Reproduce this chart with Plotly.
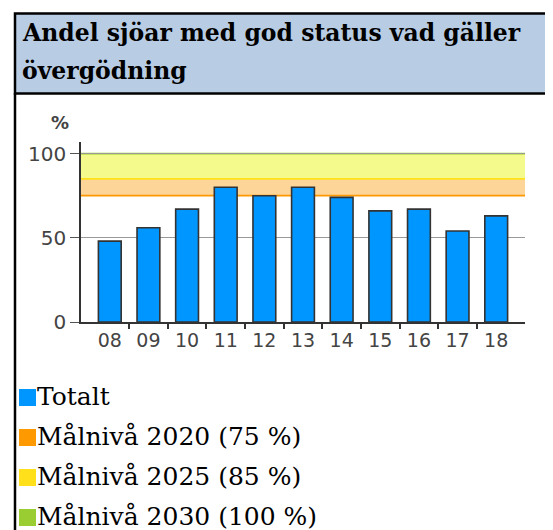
import plotly.graph_objects as go

# ---- data ----
years = ["08", "09", "10", "11", "12", "13", "14", "15", "16", "17", "18"]
totalt = [48, 56, 67, 80, 75, 80, 74, 66, 67, 54, 63]

target_labels = ["Målnivå 2020 (75 %)", "Målnivå 2025 (85 %)", "Målnivå 2030 (100 %)"]
target_values = [75, 85, 100]
band_fill = ["#FDD598", "#F4FA8C"]
band_line = ["#FF9900", "#FFE01A", "#9ACD32"]

legend_labels = ["Totalt"] + target_labels
legend_colors = ["#0096FF", "#FF9900", "#FFE01A", "#9ACD32"]

title_lines = ["Andel sjöar med god status vad gäller", "övergödning"]

# ---- geometry helpers (window pixel -> paper); the page body has an 8px margin ----
OFF = 8
W, H = 553 - OFF, 530 - OFF
ML, MR, MT, MB = 81 - OFF, 36 - OFF, 142 - OFF, 208
PW, PH = W - ML - MR, H - MT - MB


def px(x):
    return (x - OFF - ML) / PW


def py(y):
    return (H - MB - (y - OFF)) / PH


fig = go.Figure()
fig.add_trace(go.Bar(
    x=years, y=totalt, name="Totalt", showlegend=False,
    marker=dict(color="#0096FF", line=dict(color="#333333", width=1.6)),
))
# overlay axis only for tick marks between categories
fig.add_trace(go.Scatter(x=[None], y=[None], xaxis="x2", showlegend=False, hoverinfo="skip"))

shapes = []
for i in range(len(target_values) - 1):
    shapes.append(dict(type="rect", xref="x domain", yref="y", x0=0, x1=1,
                       y0=target_values[i], y1=target_values[i + 1],
                       fillcolor=band_fill[i], line=dict(width=0), layer="below"))
for v, c in zip(target_values, band_line):
    shapes.append(dict(type="line", xref="x domain", yref="y", x0=0, x1=1,
                       y0=v, y1=v, line=dict(color=c, width=1.8), layer="below"))

# header box
shapes.append(dict(type="rect", xref="paper", yref="paper",
                   x0=px(15), x1=px(551), y0=py(93.5), y1=py(13.5),
                   fillcolor="#B8CCE4", line=dict(color="#000000", width=2.5)))
# left border of the frame
shapes.append(dict(type="line", xref="paper", yref="paper",
                   x0=px(15), x1=px(15), y0=py(93.5), y1=py(540),
                   line=dict(color="#000000", width=2.5)))

annotations = []
title_y = [33, 71]
for t, yy in zip(title_lines, title_y):
    annotations.append(dict(text="<b>" + t + "</b>", xref="paper", yref="paper",
                            x=px(20), y=py(yy), xanchor="left", yanchor="middle",
                            showarrow=False,
                            font=dict(family="DejaVu Serif", size=23.5, color="#000000")))

annotations.append(dict(text="<b>%</b>", xref="paper", yref="paper",
                        x=px(60), y=py(123), xanchor="center", yanchor="middle",
                        showarrow=False,
                        font=dict(family="DejaVu Sans", size=18, color="#444444")))

row_y = [397.5, 437.5, 477.5, 517.5]
for lab, col, yy in zip(legend_labels, legend_colors, row_y):
    shapes.append(dict(type="rect", xref="paper", yref="paper",
                       x0=px(19), x1=px(36), y0=py(yy + 8.5), y1=py(yy - 8.5),
                       fillcolor=col, line=dict(width=0)))
    annotations.append(dict(text=lab, xref="paper", yref="paper",
                            x=px(35), y=py(yy - 1), xanchor="left", yanchor="middle",
                            showarrow=False,
                            font=dict(family="DejaVu Serif", size=25, color="#000000")))

xr = [-0.745, len(years) - 1 + 0.745]
fig.update_layout(
    width=W, height=H,
    margin=dict(l=ML, r=MR, t=MT, b=MB, pad=0),
    paper_bgcolor="#FFFFFF", plot_bgcolor="#FFFFFF",
    bargap=0.41,
    showlegend=False,
    shapes=shapes,
    annotations=annotations,
    xaxis=dict(type="category", range=xr, showgrid=False, ticks="", showline=True,
               linecolor="#333333", linewidth=1.5,
               tickfont=dict(family="DejaVu Sans", size=19, color="#444444"),
               fixedrange=True),
    xaxis2=dict(overlaying="x", anchor="y", side="bottom", range=xr,
                tickvals=[i + 0.5 for i in range(len(years) - 1)],
                ticktext=[""] * (len(years) - 1),
                ticks="outside", ticklen=6, tickwidth=1.5, tickcolor="#333333",
                showgrid=False, showline=False, zeroline=False, fixedrange=True),
    yaxis=dict(range=[0, PH / 1.684], tickvals=[0, 50, 100], ticks="outside",
               ticklen=9, tickwidth=1.3, tickcolor="#555555",
               showline=True, linecolor="#333333", linewidth=1.5,
               showgrid=True, gridcolor="#999999", gridwidth=1,
               zeroline=False,
               tickfont=dict(family="DejaVu Sans", size=20, color="#444444"),
               fixedrange=True),
)

fig.write_html("out.html")
